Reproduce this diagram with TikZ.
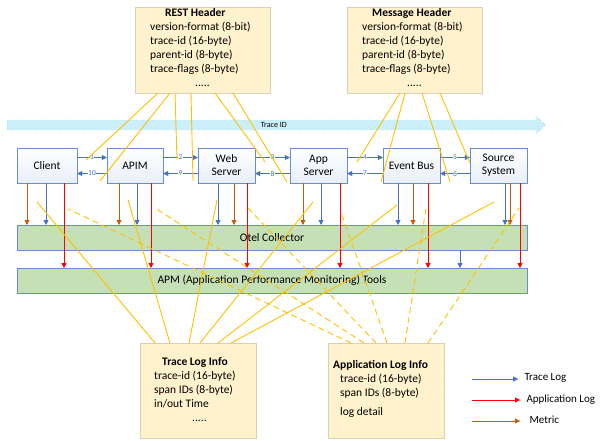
\documentclass[tikz,border=0pt]{standalone}
\usepackage{fontspec}
\setmainfont{Carlito}
\usetikzlibrary{arrows.meta,shapes.arrows}
\definecolor{bl}{HTML}{4472C4}
\definecolor{rd}{HTML}{FF0000}
\definecolor{br}{HTML}{C55A11}
\definecolor{yl}{HTML}{FFC000}
\definecolor{hdr}{HTML}{FFF2CC}
\definecolor{grn}{HTML}{C5E0B4}
\tikzset{
  comp/.style={draw=bl!80,top color=white,bottom color=bl!12,minimum height=35pt,align=center,font=\fontsize{11.5}{13}\selectfont},
  bar/.style={draw=bl!80,fill=grn,minimum height=25pt,minimum width=510pt,font=\fontsize{11.5}{13}\selectfont},
  info/.style={align=left,font=\fontsize{11.5}{14}\selectfont,anchor=north west,inner sep=0pt},
  tl/.style={-{Triangle[length=5pt,width=5pt]},bl,thick},
  al/.style={-{Triangle[length=5pt,width=5pt]},rd,thick},
  ml/.style={-{Triangle[length=5pt,width=5pt]},br,thick},
  yline/.style={yl,line width=0.9pt},
  ydash/.style={yl,line width=0.9pt,dash pattern=on 6pt off 4pt},
  num/.style={font=\fontsize{7.5}{8}\selectfont,fill=white,inner sep=0.5pt},
  lg/.style={anchor=west,font=\fontsize{11}{12}\selectfont}
}
\begin{document}
\begin{tikzpicture}[x=1pt,y=-1pt]
\useasboundingbox (0,0) rectangle (600,441);
% header boxes
\fill[hdr,draw=hdr!70!gray] (135,7) rectangle (270,93);
\node[info] (rest) at (150,8) {\hspace*{15pt}\textbf{REST Header}\\version-format (8-bit)\\trace-id (16-byte)\\parent-id (8-byte)\\trace-flags (8-byte)\\\hspace*{45pt}.....};
\fill[hdr,draw=hdr!70!gray] (347,7) rectangle (482,93);
\node[info] (msg) at (362,8) {\hspace*{10pt}\textbf{Message Header}\\version-format (8-bit)\\trace-id (16-byte)\\parent-id (8-byte)\\trace-flags (8-byte)\\\hspace*{45pt}.....};
% trace id arrow
\node[single arrow,draw=cyan!40,dashed,fill=cyan!20,minimum height=538pt,minimum width=17pt,single arrow head extend=2pt,inner sep=0pt,anchor=west,font=\fontsize{8}{9}\selectfont] (tid) at (7,125) {Trace ID};
% components
\node[comp,minimum width=60pt] (cl) at (47,165.5) {Client};
\node[comp,minimum width=56pt] (apim) at (135,165.5) {APIM};
\node[comp,minimum width=57pt] (web) at (226.5,165.5) {Web\\Server};
\node[comp,minimum width=57pt] (app) at (318.5,165.5) {App\\Server};
\node[comp,minimum width=57pt] (eb) at (411.5,165.5) {Event Bus};
\node[comp,minimum width=57pt] (src) at (498.5,165.5) {Source\\System};
% horizontal arrows
\foreach \a/\b/\f/\r in {cl/apim/1/10,apim/web/2/9,web/app/3/8,app/eb/4/7,eb/src/5/6}{
  \draw[tl,thin] ([yshift=8pt]\a.east) -- node[num]{\f} ([yshift=8pt]\b.west);
  \draw[tl,thin] ([yshift=-8pt]\b.west) -- node[num]{\r} ([yshift=-8pt]\a.east);
}
% bars
\node[bar] (otel) at (272,237.5) {Otel Collector};
\node[bar] (apm) at (272,280.5) {APM (Application Performance Monitoring) Tools};
% vertical arrows
\foreach \n/\b/\t/\r in {cl/27/46/64,apim/119/137/151,web/234/218/247,app/303/321/340,eb/413/398/428,src/510/505/520}{
  \draw[ml] (\b,183) -- (\b,225);
  \draw[tl] (\t,183) -- (\t,225);
  \draw[al] (\r,183) -- (\r,268);
}
\draw[tl] (460,250) -- (460,268);
% bottom boxes
\fill[hdr,draw=hdr!70!gray] (140,343) rectangle (256,438);
\node[info] (tli) at (154,357) {\hspace*{8pt}\textbf{Trace Log Info}\\trace-id (16-byte)\\span IDs (8-byte)\\in/out Time\\\hspace*{38pt}.....};
\fill[hdr,draw=hdr!70!gray] (328,343) rectangle (444,438);
\node[info] (ali) at (333,360) {\textbf{Application Log Info}\\\hspace*{7pt}trace-id (16-byte)\\\hspace*{7pt}span IDs (8-byte)\\[5pt]\hspace*{7pt}log detail};
% yellow lines top
\draw[yline] (158,93) -- (86,160);
\draw[yline] (170,93) -- (100,181);
\draw[yline] (175,93) -- (177,160);
\draw[yline] (191,93) -- (193,181);
\draw[yline] (215,93) -- (265,162);
\draw[yline] (233,93) -- (287,182);
\draw[yline] (400,93) -- (357,162);
\draw[yline] (405,93) -- (381,182);
\draw[yline] (422,93) -- (450,182);
\draw[yline] (440,93) -- (470,163);
% yellow lines bottom
\draw[yline] (155,343) -- (37,202);
\draw[yline] (170,343) -- (128,200);
\draw[yline] (189,343) -- (217,200);
\draw[yline] (200,343) -- (313,202);
\draw[yline] (218,343) -- (397,205);
\draw[yline] (231,343) -- (494,202);
\draw[ydash] (351,343) -- (68,209);
\draw[ydash] (364,343) -- (155,208);
\draw[ydash] (376,343) -- (248,208);
\draw[ydash] (387,343) -- (341,212);
\draw[ydash] (405,343) -- (426,208);
\draw[ydash] (428,343) -- (519,208);
% legend
\coordinate (l1) at (472,379); \coordinate (l2) at (472,400); \coordinate (l3) at (472,421);
\node[lg] (t1) at (521,378) {Trace Log};
\node[lg] (t2) at (523,400) {Application Log};
\node[lg] (t3) at (526,420) {Metric};
\draw[tl,thin] (l1) -- (518,379);
\draw[al,thin] (l2) -- (520,400);
\draw[ml,thin] (l3) -- (520,421);
\end{tikzpicture}
\end{document}
